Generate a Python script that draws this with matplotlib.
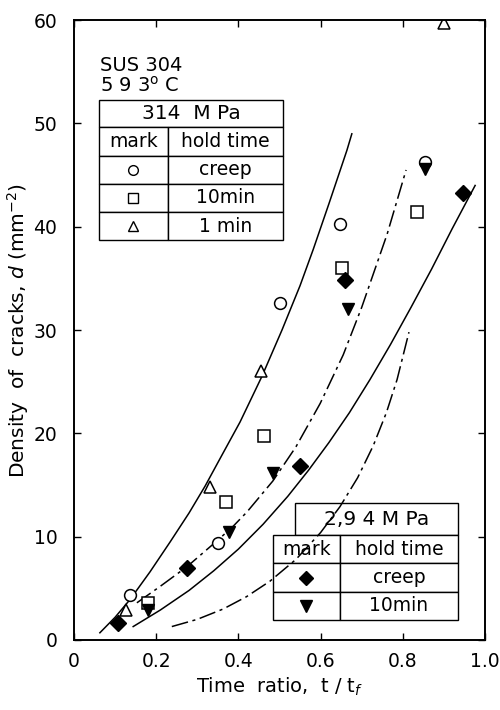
import numpy as np
import matplotlib.pyplot as plt

plt.rcParams['font.family'] = ['DejaVu Sans']

# 314 MPa data (open symbols)
creep314_x = [0.137, 0.35, 0.50, 0.646, 0.854]
creep314_y = [4.4, 9.4, 32.6, 40.3, 46.3]
min10_314_x = [0.18, 0.37, 0.463, 0.651, 0.834]
min10_314_y = [3.6, 13.4, 19.7, 36.0, 41.4]
min1_314_x = [0.127, 0.33, 0.454, 0.90]
min1_314_y = [2.9, 14.8, 26.0, 59.7]

# 294 MPa data (filled symbols)
creep294_x = [0.107, 0.276, 0.549, 0.659, 0.946]
creep294_y = [1.6, 7.0, 16.8, 34.8, 43.3]
min10_294_x = [0.18, 0.378, 0.485, 0.666, 0.854]
min10_294_y = [2.9, 10.5, 16.2, 32.0, 45.6]

# curves
c1_x = [0.063, 0.10, 0.136, 0.185, 0.234, 0.28, 0.319, 0.36, 0.404, 0.457,
        0.506, 0.55, 0.582, 0.62, 0.664, 0.676]
c1_y = [0.7, 2.2, 3.9, 6.6, 9.5, 12.3, 14.9, 17.9, 21.1, 25.5,
        30.0, 34.3, 37.8, 42.2, 47.4, 49.0]
c2_x = [0.153, 0.21, 0.275, 0.348, 0.387, 0.421, 0.484, 0.54, 0.599, 0.655,
        0.70, 0.762, 0.808]
c2_y = [3.6, 5.2, 7.1, 9.6, 11.0, 12.4, 15.4, 18.7, 22.9, 27.6,
        32.2, 39.3, 45.5]
c3_x = [0.144, 0.21, 0.28, 0.34, 0.40, 0.46, 0.52, 0.57, 0.62, 0.67,
        0.72, 0.77, 0.82, 0.87, 0.92, 0.976]
c3_y = [1.3, 2.9, 4.8, 6.7, 8.8, 11.2, 13.9, 16.4, 19.1, 22.0,
        25.2, 28.6, 32.2, 35.9, 39.8, 44.0]
c4_x = [0.238, 0.30, 0.363, 0.42, 0.477, 0.54, 0.60, 0.647, 0.69, 0.728,
        0.76, 0.786, 0.815]
c4_y = [1.3, 2.0, 3.0, 4.2, 5.7, 7.8, 10.4, 12.9, 15.7, 18.8,
        22.0, 25.2, 29.8]

xticks = [0, 0.2, 0.4, 0.6, 0.8, 1.0]
xticklabels = ['0', '0.2', '0.4', '0.6', '0.8', '1.0']
yticks = [0, 10, 20, 30, 40, 50, 60]

fig = plt.figure(figsize=(5, 7.1), dpi=100)
ax = fig.add_axes([0.148, 0.0986, 0.822, 0.873])

dd = (0, (11, 3, 2, 3))
ax.plot(c1_x, c1_y, 'k-', lw=1.1)
ax.plot(c2_x, c2_y, color='k', ls=dd, lw=1.1)
ax.plot(c3_x, c3_y, 'k-', lw=1.1)
ax.plot(c4_x, c4_y, color='k', ls=dd, lw=1.1)

ax.plot(creep314_x, creep314_y, 'o', mfc='white', mec='k', ms=8.5, mew=1.1)
ax.plot(min10_314_x, min10_314_y, 's', mfc='white', mec='k', ms=8, mew=1.1)
ax.plot(min1_314_x, min1_314_y, '^', mfc='white', mec='k', ms=9, mew=1.1)
ax.plot(creep294_x, creep294_y, 'D', color='k', ms=8)
ax.plot(min10_294_x, min10_294_y, 'v', color='k', ms=9)

ax.set_xlim(0, 1.0)
ax.set_ylim(0, 60)
ax.set_xticks(xticks)
ax.set_xticklabels(xticklabels)
ax.set_yticks(yticks)
ax.tick_params(direction='in', length=5, width=1, top=True, right=True,
               labelsize=13.5)
ax.tick_params(axis='x', pad=9)
ax.tick_params(axis='y', pad=12)
for s in ax.spines.values():
    s.set_linewidth(1.4)

ax.set_xlabel('Time  ratio,  t / t$_f$', fontsize=14, labelpad=3)
ax.set_ylabel('Density  of  cracks, $d$ (mm$^{-2}$)', fontsize=14.5, labelpad=2)

ax.text(0.063, 0.918, 'SUS 304', transform=ax.transAxes, fontsize=14)
ax.text(0.063, 0.884, '5 9 3$^{\\rm o}$ C', transform=ax.transAxes, fontsize=14)


def legend_table(x0, xh, x1, xm, y_top, y_head, y_bot, title, labels, markers):
    # header cell
    t = ax.table(cellText=[[title]], cellLoc='center',
                 bbox=[xh, y_head, x1 - xh, y_top - y_head])
    # body cells
    rows = [['mark', 'hold time']] + [['', l] for l in labels]
    b = ax.table(cellText=rows, cellLoc='center',
                 colWidths=[xm - x0, x1 - xm],
                 bbox=[x0, y_bot, x1 - x0, y_head - y_bot])
    for tab in (t, b):
        tab.auto_set_font_size(False)
        tab.set_fontsize(13.5)
        for c in tab.get_celld().values():
            c.set_linewidth(1.0)
            c.set_facecolor('white')
    t.set_fontsize(14.5)
    rh = (y_head - y_bot) / len(rows)
    for i, m in enumerate(markers):
        yc = y_head - rh * (i + 1.5)
        ax.plot([(x0 + xm) / 2], [yc], transform=ax.transAxes, clip_on=False,
                zorder=5, **m)


legend_table(0.0608, 0.0608, 0.5085, 0.2287, 0.871, 0.827, 0.645, '314  M Pa',
             ['creep', '10min', '1 min'],
             [dict(marker='o', mfc='white', mec='k', ms=7, ls=''),
              dict(marker='s', mfc='white', mec='k', ms=7, ls=''),
              dict(marker='^', mfc='white', mec='k', ms=7, ls='')])
legend_table(0.484, 0.538, 0.934, 0.647, 0.221, 0.169, 0.0323, '2,9 4 M Pa',
             ['creep', '10min'],
             [dict(marker='D', color='k', ms=7, ls=''),
              dict(marker='v', color='k', ms=8, ls='')])

plt.savefig('out.png', dpi=100)
